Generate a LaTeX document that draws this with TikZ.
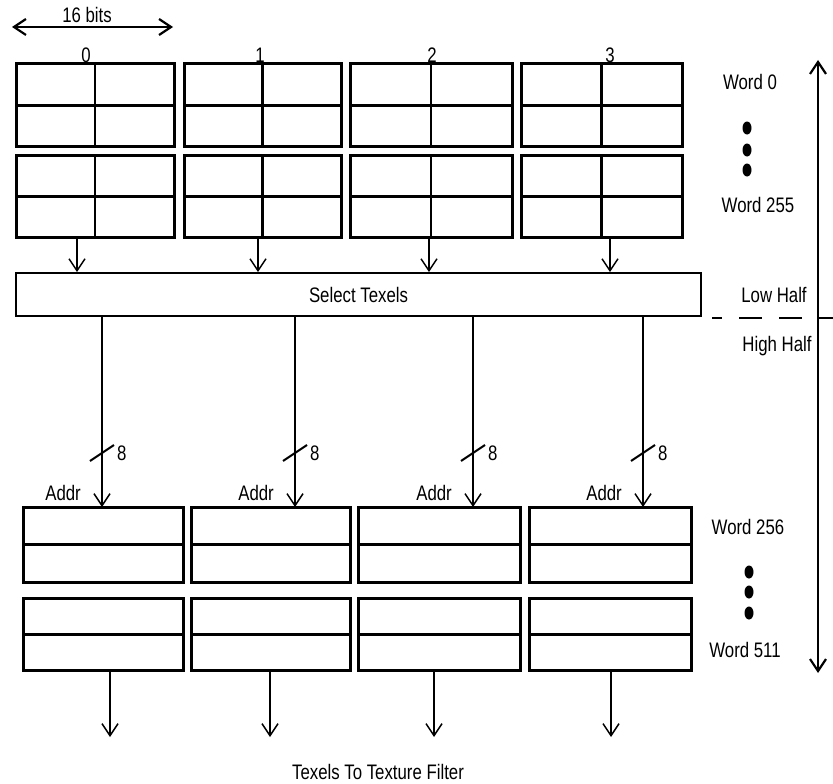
\documentclass[tikz,border=0pt]{standalone}
\usepackage{fontspec}
\setmainfont{Liberation Sans}[FakeStretch=0.8]
\usetikzlibrary{arrows.meta}

\tikzset{
  blk/.style={draw,line width=3pt,inner sep=0pt,outer sep=0pt},
  mid/.style={line width=3pt},
  wire/.style={line width=1.5pt},
  lbl/.style={font=\fontsize{21}{25}\selectfont,inner sep=1pt},
  >={Straight Barb[length=12pt,width=16pt]}
}

\begin{document}
\begin{tikzpicture}[x=1pt,y=-1pt]
  \useasboundingbox (0,0) rectangle (833,784);
  % width of one texel
  \draw[line width=2.2pt,<->] (12,27)--(173,27);
  \node[lbl] (BW) at (87,15) {16 bits};
  % select box
  \node[draw,line width=1.8pt,minimum width=685pt,minimum height=43pt,lbl] (S) at (358.5,294.5) {Select Texels};
  % low half banks
  \foreach \i/\x/\w/\l/\a in {0/95/158/-9/-18,1/262.5/157/-2.5/-4.5,2/431/162/1/-2,3/601.5/161/8.5/8.5}{
    \node[blk,minimum width=\w pt,minimum height=82pt] (A\i) at (\x,105) {};
    \node[blk,minimum width=\w pt,minimum height=82pt] (B\i) at (\x,196) {};
    \draw[mid] (A\i.west)--(A\i.east) (B\i.west)--(B\i.east);
    \draw[line width=2.4pt] (A\i.north)--(A\i.south) (B\i.north)--(B\i.south);
    \node[lbl,anchor=south] (N\i) at ([xshift=\l pt]A\i.north) {\i};
    \draw[wire,->] ([xshift=\a pt]B\i.south)--([xshift=\a pt]B\i.south |- S.north);
  }
  % high half banks
  \foreach \i/\x/\w/\p/\q in {0/103/160/102/110,1/270.5/159/295/270,2/439/162/473/434,3/610/162/643/611}{
    \node[blk,minimum width=\w pt,minimum height=75pt] (C\i) at (\x,544.5) {};
    \node[blk,minimum width=\w pt,minimum height=72pt] (D\i) at (\x,634) {};
    \draw[mid] (C\i.west)--(C\i.east) (D\i.west)--(D\i.east);
    \coordinate (G\i) at (C\i.north -| \p,0);
    \coordinate (K\i) at (\p,453);
    \coordinate (H\i) at (\q,737);
    \draw[wire,->] (S.south -| G\i)--(G\i);
    \draw[line width=2pt] ([shift={(-12,8)}]K\i)--([shift={(12,-8)}]K\i);
    \node[lbl,anchor=west] (E\i) at ([xshift=14pt]K\i) {8};
    \node[lbl,anchor=south east] (F\i) at ([shift={(-20,-5)}]G\i) {Addr};
    \draw[wire,->] (D\i.south -| H\i)--(H\i);
  }
  % word ranges
  \node[lbl] (W0) at (750,82) {Word 0};
  \node[lbl] (W255) at (758,205) {Word 255};
  \node[lbl] (W256) at (748,527) {Word 256};
  \node[lbl] (W511) at (745,650) {Word 511};
  \foreach \y in {128,150,170} \fill (747,\y) ellipse (4.5pt and 6.5pt);
  \foreach \y in {572,592,613} \fill (749,\y) ellipse (4.5pt and 6.5pt);
  \node[lbl] (LH) at (774,295) {Low Half};
  \node[lbl] (HH) at (777,346) {High Half};
  \draw[line width=2.4pt,dash pattern=on 23pt off 17pt,dash phase=13pt] (712,318)--(833,318);
  \draw[line width=2.2pt,<->] (818,60)--(818,673);
  \node[lbl] (TF) at (378,772) {Texels To Texture Filter};
\end{tikzpicture}
\end{document}
